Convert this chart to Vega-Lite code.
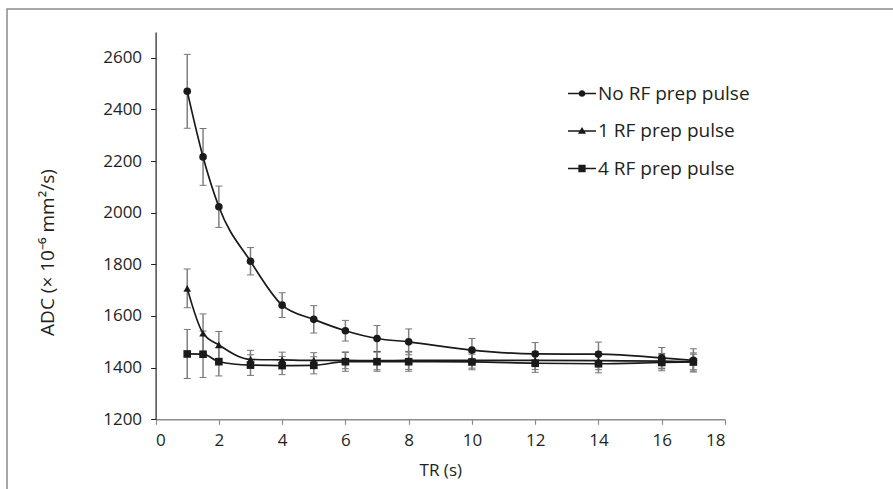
{
  "$schema": "https://vega.github.io/schema/vega-lite/v6.json",
  "width": 888,
  "height": 482,
  "autosize": {"type": "none"},
  "padding": {"left": 7, "top": 9, "right": -2, "bottom": -2},
  "background": "white",
  "config": {
    "view": {"stroke": "#8c8c8c", "strokeWidth": 1.5},
    "font": "Open Sans",
    "axis": {"grid": false, "labelFont": "Open Sans", "titleFont": "Open Sans", "labelColor": "#231f20", "titleColor": "#231f20", "labelFontSize": 17, "titleFontSize": 17, "titleFontWeight": "normal"}
  },
  "data": {
    "values": [
      {"series": "No RF prep pulse", "tr": 1, "adc": 2470, "err": 143},
      {"series": "No RF prep pulse", "tr": 1.5, "adc": 2216, "err": 110},
      {"series": "No RF prep pulse", "tr": 2, "adc": 2023, "err": 80},
      {"series": "No RF prep pulse", "tr": 3, "adc": 1812, "err": 53},
      {"series": "No RF prep pulse", "tr": 4, "adc": 1642, "err": 48},
      {"series": "No RF prep pulse", "tr": 5, "adc": 1587, "err": 53},
      {"series": "No RF prep pulse", "tr": 6, "adc": 1543, "err": 40},
      {"series": "No RF prep pulse", "tr": 7, "adc": 1513, "err": 50},
      {"series": "No RF prep pulse", "tr": 8, "adc": 1500, "err": 50},
      {"series": "No RF prep pulse", "tr": 10, "adc": 1468, "err": 45},
      {"series": "No RF prep pulse", "tr": 12, "adc": 1453, "err": 44},
      {"series": "No RF prep pulse", "tr": 14, "adc": 1452, "err": 47},
      {"series": "No RF prep pulse", "tr": 16, "adc": 1438, "err": 40},
      {"series": "No RF prep pulse", "tr": 17, "adc": 1428, "err": 45},
      {"series": "1 RF prep pulse", "tr": 1, "adc": 1707, "err": 75},
      {"series": "1 RF prep pulse", "tr": 1.5, "adc": 1533, "err": 75},
      {"series": "1 RF prep pulse", "tr": 2, "adc": 1488, "err": 52},
      {"series": "1 RF prep pulse", "tr": 3, "adc": 1432, "err": 35},
      {"series": "1 RF prep pulse", "tr": 4, "adc": 1430, "err": 30},
      {"series": "1 RF prep pulse", "tr": 5, "adc": 1428, "err": 30},
      {"series": "1 RF prep pulse", "tr": 6, "adc": 1428, "err": 32},
      {"series": "1 RF prep pulse", "tr": 7, "adc": 1427, "err": 35},
      {"series": "1 RF prep pulse", "tr": 8, "adc": 1428, "err": 35},
      {"series": "1 RF prep pulse", "tr": 10, "adc": 1428, "err": 30},
      {"series": "1 RF prep pulse", "tr": 12, "adc": 1428, "err": 35},
      {"series": "1 RF prep pulse", "tr": 14, "adc": 1427, "err": 35},
      {"series": "1 RF prep pulse", "tr": 16, "adc": 1425, "err": 30},
      {"series": "1 RF prep pulse", "tr": 17, "adc": 1422, "err": 30},
      {"series": "4 RF prep pulse", "tr": 1, "adc": 1453, "err": 95},
      {"series": "4 RF prep pulse", "tr": 1.5, "adc": 1452, "err": 90},
      {"series": "4 RF prep pulse", "tr": 2, "adc": 1423, "err": 55},
      {"series": "4 RF prep pulse", "tr": 3, "adc": 1410, "err": 40},
      {"series": "4 RF prep pulse", "tr": 4, "adc": 1408, "err": 35},
      {"series": "4 RF prep pulse", "tr": 5, "adc": 1409, "err": 33},
      {"series": "4 RF prep pulse", "tr": 6, "adc": 1423, "err": 37},
      {"series": "4 RF prep pulse", "tr": 7, "adc": 1423, "err": 37},
      {"series": "4 RF prep pulse", "tr": 8, "adc": 1423, "err": 37},
      {"series": "4 RF prep pulse", "tr": 10, "adc": 1422, "err": 30},
      {"series": "4 RF prep pulse", "tr": 12, "adc": 1417, "err": 35},
      {"series": "4 RF prep pulse", "tr": 14, "adc": 1415, "err": 35},
      {"series": "4 RF prep pulse", "tr": 16, "adc": 1420, "err": 32},
      {"series": "4 RF prep pulse", "tr": 17, "adc": 1422, "err": 35}
    ]
  },
  "encoding": {
    "x": {
      "field": "tr", "type": "quantitative",
      "scale": {"domain": [0, 18], "nice": false, "zero": false, "range": [148.6, 718]},
      "axis": {"title": "TR (s)", "values": [0, 2, 4, 6, 8, 10, 12, 14, 16, 18], "offset": -71.7, "tickSize": 5, "domainColor": "#8c8c8c", "tickColor": "#8c8c8c", "domainWidth": 1.5, "tickWidth": 1.2, "labelPadding": 8, "titleBaseline": "middle", "titleY": 51}
    },
    "y": {
      "field": "adc", "type": "quantitative",
      "scale": {"domain": [1200, 2700], "nice": false, "zero": false, "range": [410.3, 22.9]},
      "axis": {"title": "ADC (× 10⁻⁶ mm²/s)", "format": "d", "values": [1200, 1400, 1600, 1800, 2000, 2200, 2400, 2600], "offset": -148.6, "tickSize": 5, "domainColor": "#231f20", "tickColor": "#231f20", "domainWidth": 1.2, "tickWidth": 1, "labelPadding": 9, "titleFontSize": 19, "titleBaseline": "middle", "titleX": -108, "titleY": 243, "titleAngle": 270}
    }
  },
  "layer": [
    {
      "mark": {"type": "errorbar", "ticks": {"size": 7, "color": "#3a3a3a", "strokeWidth": 1.2}, "rule": {"color": "#7f7f7f", "strokeWidth": 1.5}},
      "encoding": {
        "yError": {"field": "err"},
        "detail": {"field": "series"}
      }
    },
    {
      "mark": {"type": "line", "interpolate": "monotone", "color": "#1a1a1a", "strokeWidth": 1.7},
      "encoding": {"detail": {"field": "series", "type": "nominal"}}
    },
    {
      "mark": {"type": "point", "filled": true, "opacity": 1, "color": "#1a1a1a", "size": 58},
      "encoding": {
        "shape": {
          "field": "series", "type": "nominal",
          "scale": {"domain": ["No RF prep pulse", "1 RF prep pulse", "4 RF prep pulse"], "range": ["circle", "triangle-up", "square"]},
          "legend": null
        }
      }
    },
    {
      "transform": [{"filter": "false"}],
      "mark": {"type": "point", "filled": true, "opacity": 1, "color": "#1a1a1a", "size": 784},
      "encoding": {
        "shape": {
          "field": "series", "type": "nominal",
          "scale": {"domain": ["No RF prep pulse", "1 RF prep pulse", "4 RF prep pulse"], "range": ["M-1,-0.045H1V0.045H-1ZM0.24,0A0.24,0.24 0 1,1 -0.24,0A0.24,0.24 0 1,1 0.24,0Z", "M-1,-0.045H1V0.045H-1ZM0,-0.28L0.29,0.2L-0.29,0.2Z", "M-1,-0.045H1V0.045H-1ZM-0.26,-0.26H0.26V0.26H-0.26Z"]},
          "legend": {
            "title": null,
            "orient": "none",
            "legendX": 560,
            "legendY": 69.5,
            "padding": 0,
            "symbolSize": 784,
            "symbolOpacity": 1,
            "rowPadding": 12.5,
            "labelOffset": 1,
            "labelFont": "Open Sans",
            "labelFontSize": 19,
            "labelColor": "#231f20",
            "labelBaseline": "middle"
          }
        }
      }
    }
  ],
  "resolve": {"scale": {"shape": "independent"}, "legend": {"shape": "independent"}}
}
